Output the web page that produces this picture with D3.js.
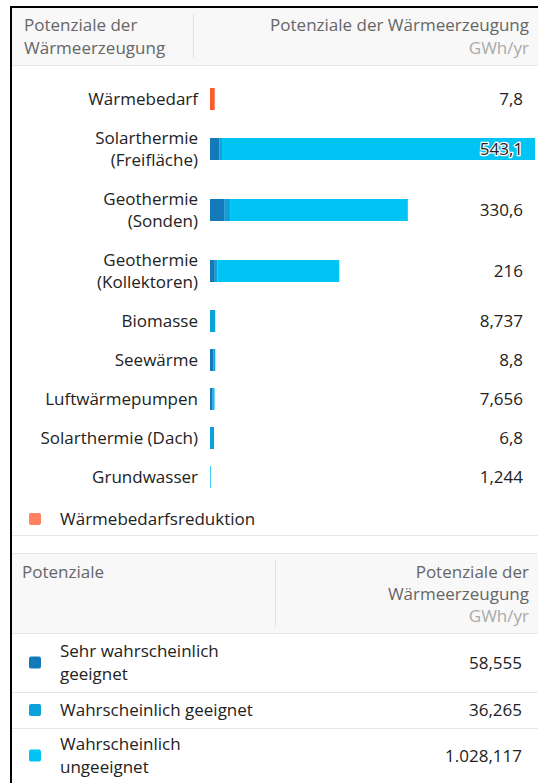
<!DOCTYPE html>
<html>
<head>
<meta charset="utf-8">
<script src="https://d3js.org/d3.v7.min.js"></script>
<style>
  body { margin: 0; background: #fff; }
  svg text { font-family: "Open Sans", sans-serif; }
</style>
</head>
<body>
<div id="chart"></div>
<script>
// categories (two-line labels split with "|")
var categories = ["Wärmebedarf", "Solarthermie|(Freifläche)", "Geothermie|(Sonden)", "Geothermie|(Kollektoren)",
  "Biomasse", "Seewärme", "Luftwärmepumpen", "Solarthermie (Dach)", "Grundwasser"];
var totals = ["7,8", "543,1", "330,6", "216", "8,737", "8,8", "7,656", "6,8", "1,244"];
// GWh/yr per suitability class (Wärmebedarf shown separately)
var demand = [7.8, 0, 0, 0, 0, 0, 0, 0, 0];
var sehrGeeignet = [0, 16, 24.555, 8, 0, 5.5, 4.5, 0, 0];
var geeignet = [0, 4, 9, 4.428, 8.737, 3.3, 0, 6.8, 0];
var ungeeignet = [0, 523.1, 297.045, 203.572, 0, 0, 3.156, 0, 1.244];

var classNames = ["Sehr wahrscheinlich|geeignet", "Wahrscheinlich geeignet", "Wahrscheinlich|ungeeignet"];
var classTotals = ["58,555", "36,265", "1.028,117"];

var W = 538, H = 783, FS = 17;
var svg = d3.select("#chart").append("svg").attr("width", W).attr("height", H);

var keys = ["demand", "sehr", "geeignet", "ungeeignet"];
var color = d3.scaleOrdinal().domain(keys).range(["#ff5a2e", "#1479b8", "#0aa2d9", "#00c4f4"]);

var rows = categories.map(function(c, i) {
  return { label: c, total: totals[i], demand: demand[i], sehr: sehrGeeignet[i], geeignet: geeignet[i], ungeeignet: ungeeignet[i] };
});

// header panel 1
svg.append("rect").attr("x", 12).attr("y", 8).attr("width", W - 12).attr("height", 57).attr("fill", "#f8f8f8");
svg.append("line").attr("x1", 12).attr("x2", W).attr("y1", 65.5).attr("y2", 65.5).attr("stroke", "#e6e6e6");
svg.append("line").attr("x1", 193.5).attr("x2", 193.5).attr("y1", 14).attr("y2", 58).attr("stroke", "#e2e2e2");
svg.append("text").attr("x", 24).attr("y", 31).attr("fill", "#666").attr("font-size", FS).text("Potenziale der");
svg.append("text").attr("x", 24).attr("y", 54).attr("fill", "#666").attr("font-size", FS).text("Wärmeerzeugung");
svg.append("text").attr("x", 529).attr("y", 31).attr("fill", "#666").attr("font-size", FS).attr("text-anchor", "end").text("Potenziale der Wärmeerzeugung");
svg.append("text").attr("x", 529).attr("y", 54).attr("fill", "#aaa").attr("font-size", FS).attr("text-anchor", "end").text("GWh/yr");

// row layout
var y0 = 79.5, acc = y0;
rows.forEach(function(r) {
  var n = r.label.split("|").length;
  r.h = n > 1 ? 61 : 39;
  r.cy = acc + r.h / 2;
  acc += r.h;
});

var x = d3.scaleLinear().domain([0, d3.max(rows, function(r) { return r.demand + r.sehr + r.geeignet + r.ungeeignet; })]).range([210, 535]);

var stack = d3.stack().keys(keys);
var series = stack(rows);

var barH = 22;
svg.append("g").selectAll("g").data(series).enter().append("g")
  .attr("fill", function(d) { return color(d.key); })
  .selectAll("rect").data(function(d) { return d; }).enter().append("rect")
  .attr("x", function(d) { return x(d[0]); })
  .attr("y", function(d) { return d.data.cy - barH / 2; })
  .attr("width", function(d) { return x(d[1]) - x(d[0]); })
  .attr("height", barH);

// category labels
var lab = svg.append("g").selectAll("text").data(rows).enter().append("text")
  .attr("x", 198).attr("text-anchor", "end").attr("fill", "#222").attr("font-size", FS);
lab.each(function(r) {
  var lines = r.label.split("|");
  var t = d3.select(this);
  lines.forEach(function(l, j) {
    t.append("tspan").attr("x", 198)
      .attr("y", r.cy + 6 + (j - (lines.length - 1) / 2) * 22).text(l);
  });
});

// value labels
svg.append("g").selectAll("text").data(rows).enter().append("text")
  .attr("x", 523).attr("y", function(r) { return r.cy + 6; })
  .attr("text-anchor", "end").attr("font-size", FS).attr("fill", "#222")
  .attr("stroke", "#fff").attr("stroke-width", 2.5).attr("paint-order", "stroke")
  .text(function(r) { return r.total; });

// legend for demand reduction
svg.append("rect").attr("x", 29).attr("y", 513).attr("width", 12).attr("height", 12).attr("rx", 2).attr("fill", "#ff8363");
svg.append("text").attr("x", 60).attr("y", 525).attr("font-size", FS).attr("fill", "#222").text("Wärmebedarfsreduktion");
svg.append("line").attr("x1", 12).attr("x2", W).attr("y1", 535.5).attr("y2", 535.5).attr("stroke", "#e6e6e6");

// second table header
svg.append("rect").attr("x", 12).attr("y", 553).attr("width", W - 12).attr("height", 80).attr("fill", "#f8f8f8");
svg.append("line").attr("x1", 12).attr("x2", W).attr("y1", 553.5).attr("y2", 553.5).attr("stroke", "#e6e6e6");
svg.append("line").attr("x1", 12).attr("x2", W).attr("y1", 633.5).attr("y2", 633.5).attr("stroke", "#e6e6e6");
svg.append("line").attr("x1", 275.5).attr("x2", 275.5).attr("y1", 560).attr("y2", 627).attr("stroke", "#e2e2e2");
svg.append("text").attr("x", 22).attr("y", 578).attr("fill", "#666").attr("font-size", FS).text("Potenziale");
[["Potenziale der", "#666"], ["Wärmeerzeugung", "#666"], ["GWh/yr", "#aaa"]].forEach(function(d, i) {
  svg.append("text").attr("x", 529).attr("y", 578 + i * 22).attr("text-anchor", "end")
    .attr("fill", d[1]).attr("font-size", FS).text(d[0]);
});

// second table rows
var rowY = [633, 692, 728, 783];
var legendKeys = ["sehr", "geeignet", "ungeeignet"];
classNames.forEach(function(name, i) {
  var cy = (rowY[i] + rowY[i + 1]) / 2;
  if (i < 2) svg.append("line").attr("x1", 12).attr("x2", W).attr("y1", rowY[i + 1] + 0.5).attr("y2", rowY[i + 1] + 0.5).attr("stroke", "#e6e6e6");
  svg.append("rect").attr("x", 29).attr("y", cy - 6).attr("width", 12).attr("height", 12).attr("rx", 2).attr("fill", color(legendKeys[i]));
  var lines = name.split("|");
  var t = svg.append("text").attr("font-size", FS).attr("fill", "#222");
  lines.forEach(function(l, j) {
    t.append("tspan").attr("x", 60).attr("y", cy + 6 + (j - (lines.length - 1) / 2) * 23).text(l);
  });
  svg.append("text").attr("x", 522).attr("y", cy + 6).attr("text-anchor", "end").attr("font-size", FS).attr("fill", "#222").text(classTotals[i]);
});

// frame
svg.append("line").attr("x1", 10).attr("x2", W).attr("y1", 7).attr("y2", 7).attr("stroke", "#000").attr("stroke-width", 2);
svg.append("line").attr("x1", 11).attr("x2", 11).attr("y1", 7).attr("y2", H).attr("stroke", "#000").attr("stroke-width", 2);
</script>
</body>
</html>
